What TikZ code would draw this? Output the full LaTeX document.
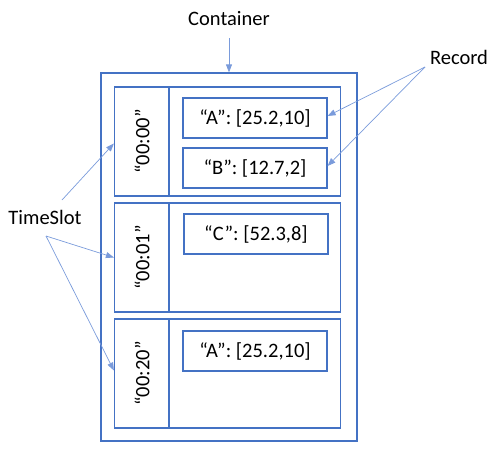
\documentclass[tikz,border=0pt]{standalone}
\usepackage{fontspec}
\setmainfont{Carlito}
\usepackage{tikz}
\usetikzlibrary{positioning}
\usetikzlibrary{arrows.meta}
\definecolor{boxblue}{HTML}{4472C4}
\definecolor{arrowblue}{HTML}{7A9BDB}

\tikzset{
  box/.style={draw=boxblue, line width=1.2pt, rectangle, inner sep=0pt},
  slotbox/.style={box, minimum width=226, minimum height=109},
  recbox/.style={box, minimum width=144, minimum height=40, font=\fontsize{20.5}{24}\selectfont},
  keylabel/.style={rotate=90, font=\fontsize{20.5}{24}\selectfont},
  lbl/.style={font=\fontsize{20.5}{24}\selectfont},
  pointer/.style={arrowblue, line width=0.7pt, -{Triangle[length=8pt,width=6pt]}}
}

\begin{document}
\begin{tikzpicture}[x=1pt,y=-1pt]

\useasboundingbox (0,0) rectangle (501,458);

% container
\node[box, minimum width=256, minimum height=368] (container) at (229,257) {};

% time slots
{
\node[slotbox] (slot1) at (227.5,141.5) {};
\node[slotbox] (slot2) at (227.5,257.5) {};
\node[slotbox] (slot3) at (227.5,373.5) {};

\draw[boxblue, line width=1.2pt] (169,87) -- (169,196);
\draw[boxblue, line width=1.2pt] (169,203) -- (169,312);
\draw[boxblue, line width=1.2pt] (169,319) -- (169,428);

\node[keylabel] (key1) at (142,141.5) {“00:00”};
\node[keylabel] (key2) at (142,257.5) {“00:01”};
\node[keylabel] (key3) at (142,373.5) {“00:20”};
}

% records
{
\node[recbox] (recA) at (255,118) {“A”: [25.2,10]};
\node[recbox] (recB) at (255,168) {“B”: [12.7,2]};
\node[recbox] (recC) at (256,234) {“C”: [52.3,8]};
\node[recbox] (recD) at (255,351) {“A”: [25.2,10]};
}

% labels
\node[lbl] (lblContainer) at (229,19) {Container};
\node[lbl] (lblRecord) at (459,57) {Record};
\node[lbl] (lblSlot) at (45,217) {TimeSlot};

\coordinate (tailContainer) at (229,38);
\coordinate (tailRecord) at (425,67);
\coordinate (tailSlotA) at (62,200);
\coordinate (tailSlotB) at (46,236);

% pointers
\draw[pointer] (tailContainer) -- (container.north);
\draw[pointer] (tailRecord) -- ([yshift=2]recA.east);
\draw[pointer] (tailRecord) -- ([yshift=2]recB.east);
\draw[pointer] (tailSlotA) -- ([yshift=-2]slot1.west);
\draw[pointer] (tailSlotB) -- (slot2.west);
\draw[pointer] (tailSlotB) -- ([yshift=3]slot3.west);

\end{tikzpicture}
\end{document}
